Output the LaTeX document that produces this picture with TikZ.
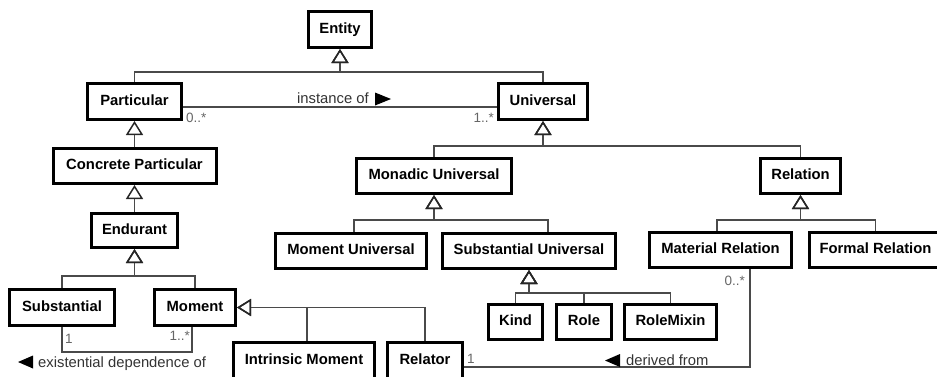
\documentclass[tikz,border=0pt]{standalone}
\usepackage{fontspec}
\setmainfont{Liberation Sans}
\usetikzlibrary{arrows.meta}
\definecolor{conn}{HTML}{4A4A4A}
\definecolor{lbl}{HTML}{333333}
\definecolor{mult}{HTML}{666666}
\begin{document}
\begin{tikzpicture}[x=1pt,y=-1pt,
  box/.style={draw=black,line width=3pt,fill=white,inner sep=0pt,
    font=\fontsize{14.8}{17}\selectfont\bfseries,text height=10.5pt,text depth=3pt},
  gen/.style={draw=conn,line width=1.7pt,-{Triangle[open,length=14pt,width=17pt,line width=1.5pt,color=black!85]}},
  assoc/.style={draw=conn,line width=1.7pt},
  lab/.style={font=\fontsize{14.8}{17}\selectfont,text=lbl,inner sep=0pt},
  mul/.style={font=\fontsize{13.5}{15}\selectfont,text=mult,inner sep=0pt}]
\useasboundingbox (0,0) rectangle (937,376);
\clip (0,0) rectangle (937,376);
% boxes
\node[box,minimum width=63pt,minimum height=36pt] (ent) at (340,29.5) {Entity};
\node[box,minimum width=94pt,minimum height=36pt] (part) at (134.5,101.5) {Particular};
\node[box,minimum width=89pt,minimum height=36pt] (univ) at (543,101.5) {Universal};
\node[box,minimum width=163pt,minimum height=35pt] (conc) at (134.5,166) {Concrete Particular};
\node[box,minimum width=155pt,minimum height=35pt] (mono) at (434,176) {Monadic Universal};
\node[box,minimum width=80pt,minimum height=35pt] (rel) at (800.5,176) {Relation};
\node[box,minimum width=86pt,minimum height=34pt] (endu) at (134.5,230.5) {Endurant};
\node[box,minimum width=151pt,minimum height=35pt] (momu) at (351,251) {Moment Universal};
\node[box,minimum width=173pt,minimum height=35pt] (subu) at (529,251) {Substantial Universal};
\node[box,minimum width=142pt,minimum height=35pt] (matr) at (720.5,250) {Material Relation};
\node[box,minimum width=132pt,minimum height=35pt] (form) at (875.5,250) {Formal Relation};
\node[box,minimum width=105pt,minimum height=36pt] (subs) at (62,307.5) {Substantial};
\node[box,minimum width=81pt,minimum height=36pt] (mom) at (195,307.5) {Moment};
\node[box,minimum width=54pt,minimum height=35pt] (kind) at (515.5,322) {Kind};
\node[box,minimum width=55pt,minimum height=35pt] (role) at (584,322) {Role};
\node[box,minimum width=92pt,minimum height=35pt] (rmix) at (670.5,322) {RoleMixin};
\node[box,minimum width=141pt,minimum height=36pt] (intr) at (304,360.5) {Intrinsic Moment};
\node[box,minimum width=75pt,minimum height=36pt] (rltr) at (425,360.5) {Relator};
% generalizations
\draw[gen] (part.north) |- (340,72) -| (ent.south);
\draw[gen] (univ.north) |- (340,72) -| (ent.south);
\draw[gen] (conc.north) -- (part.south);
\draw[gen] (endu.north) -- (conc.south);
\draw[gen] (mono.north) |- (543,146) -| (univ.south);
\draw[gen] (rel.north) |- (543,146) -| (univ.south);
\draw[gen] (subs.north) |- (134.5,276) -| (endu.south);
\draw[gen] (mom.north) |- (134.5,276) -| (endu.south);
\draw[gen] ([xshift=3pt]momu.north) |- (434,220) -| (mono.south);
\draw[gen] ([xshift=19pt]subu.north) |- (434,220) -| (mono.south);
\draw[gen] ([xshift=-3.5pt]matr.north) |- (800.5,220) -| (rel.south);
\draw[gen] (form.north) |- (800.5,220) -| (rel.south);
\draw[gen] (kind.north) |- (529,293) -| (subu.south);
\draw[gen] (role.north) |- (529,293) -| (subu.south);
\draw[gen] (rmix.north) |- (529,293) -| (subu.south);
\draw[gen] ([xshift=3pt]intr.north) |- (mom.east);
\draw[gen] (rltr.north) |- (mom.east);
% instance of
\draw[assoc] ([yshift=-5.5pt]part.east) -- ([yshift=-5.5pt]univ.west);
\node[lab,anchor=base west] (inst) at (297,103.5) {instance of};
\fill[black] (375,92.5) -- (391,99) -- (375,105.5) -- cycle;
\node[mul,anchor=base west] (m1) at (186,122) {0..*};
\node[mul,anchor=base east] (m2) at (494,122) {1..*};
% existential dependence
\draw[assoc] (subs.south) |- (100,352) -| ([xshift=-3pt]mom.south);
\node[mul,anchor=base west] (m3) at (65,343) {1};
\node[mul,anchor=base east] (m4) at (190,340) {1..*};
\fill[black] (33,355.5) -- (18,362) -- (33,368.5) -- cycle;
\node[lab,anchor=base west] (exd) at (38,367.5) {existential dependence of};
% derived from
\draw[assoc] ([yshift=-6.5pt]rltr.east) -| ([xshift=29.5pt]matr.south);
\node[mul,anchor=base west] (m5) at (467,363) {1};
\node[mul,anchor=base east] (m6) at (745,285) {0..*};
\fill[black] (620,354) -- (605,360.5) -- (620,367) -- cycle;
\node[lab,anchor=base west] (der) at (626,365.5) {derived from};
\end{tikzpicture}
\end{document}
